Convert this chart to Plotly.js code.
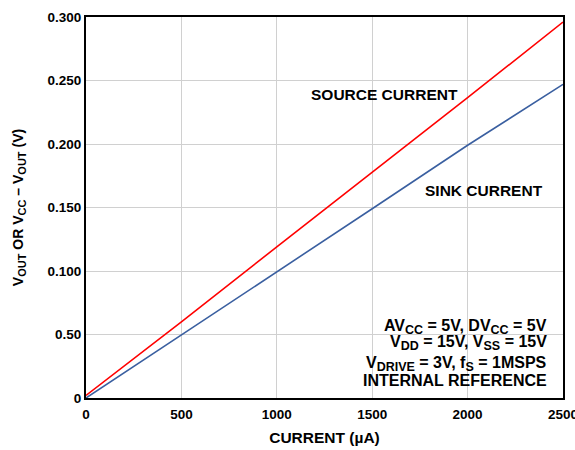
<!DOCTYPE html>
<html><head><meta charset="utf-8">
<script src="https://cdn.plot.ly/plotly-3.0.1.min.js"></script>
<style>body{margin:0;background:#fff}#c{width:575px;height:450px}</style>
</head><body><div id="c"></div>
<script>
var current = [0, 500, 1000, 1500, 2000, 2500];
var sourceV = [0.002, 0.0600, 0.1190, 0.1775, 0.2365, 0.2960];
var sinkV = [0, 0.0495, 0.099, 0.149, 0.199, 0.247];
var yTickVals = [0, 0.05, 0.1, 0.15, 0.2, 0.25, 0.3];
var yTickText = ['0', '0.50', '0.100', '0.150', '0.200', '0.250', '0.300'];
var xTickVals = [0, 500, 1000, 1500, 2000, 2500];
var condLines = ['AV<sub>CC</sub> = 5V, DV<sub>CC</sub> = 5V', 'V<sub>DD</sub> = 15V, V<sub>SS</sub> = 15V',
                 'V<sub>DRIVE</sub> = 3V, f<sub>S</sub> = 1MSPS', 'INTERNAL REFERENCE'];

var fam = 'Liberation Sans, Arial, sans-serif';
function bigSub(s, px) { return s.replace(/<sub>(.*?)<\/sub>/g, '<sub><span style="font-size:' + px + 'px">$1</span></sub>'); }
var lbl = {family: fam, size: 15.5, color: '#000'};
var data = [
  {x: current, y: sourceV, mode: 'lines', line: {color: '#ff0000', width: 1.6}, showlegend: false, hoverinfo: 'none'},
  {x: current, y: sinkV, mode: 'lines', line: {color: '#3a5fa0', width: 1.6}, showlegend: false, hoverinfo: 'none'}
];
var ann = [
  {x: 1567, y: 0.239, xref: 'x', yref: 'y', text: '<b>SOURCE CURRENT</b>', showarrow: false, font: lbl, xanchor: 'center', yanchor: 'middle'},
  {x: 2086, y: 0.1635, xref: 'x', yref: 'y', text: '<b>SINK CURRENT</b>', showarrow: false, font: lbl, xanchor: 'center', yanchor: 'middle'}
];
var lineY = [0.0560, 0.0432, 0.0270, 0.0134];
condLines.forEach(function (t, i) {
  ann.push({x: 0.9706, y: lineY[i], xref: 'paper', yref: 'y', xanchor: 'right', yanchor: 'middle', align: 'right', showarrow: false,
    text: '<b>' + bigSub(t, 12.5) + '</b>', font: {family: fam, size: 16, color: '#000'}});
});
var layout = {
  width: 575, height: 450,
  margin: {l: 86, r: 12, t: 17, b: 52},
  paper_bgcolor: '#fff', plot_bgcolor: '#fff',
  font: {family: fam, size: 13, color: '#000'},
  xaxis: {range: [0, 2500], tickvals: xTickVals, ticks: '', showline: true, linecolor: '#000', linewidth: 2, mirror: true,
    ticklabeloverflow: 'allow', ticklabelstandoff: 3,
    gridcolor: '#d0d0d0', gridwidth: 1, zeroline: false, tickfont: {family: fam, size: 13.5, color: '#000', weight: 'bold'},
    title: {text: '<b>CURRENT (µA)</b>', font: {family: fam, size: 15.5, color: '#000'}, standoff: 11}},
  yaxis: {range: [0, 0.3], tickvals: yTickVals, ticktext: yTickText, ticks: '', showline: true, linecolor: '#000', linewidth: 2, mirror: true,
    gridcolor: '#d0d0d0', gridwidth: 1, zeroline: false, tickfont: {family: fam, size: 13.5, color: '#000', weight: 'bold'},
    title: {text: '<b>' + bigSub('V<sub>OUT</sub> OR V<sub>CC</sub> – V<sub>OUT</sub> (V)', 11) + '</b>', font: {family: fam, size: 14, color: '#000'}, standoff: 21}},
  shapes: [
    {type: 'rect', xref: 'paper', yref: 'y', x0: (367 - 86) / 477, x1: (557 - 86) / 477, y0: 0.008, y1: 0.0693,
     fillcolor: '#fff', line: {width: 0}, layer: 'between'}
  ],
  annotations: ann
};
Plotly.newPlot('c', data, layout, {displayModeBar: false, staticPlot: true});
</script></body></html>
